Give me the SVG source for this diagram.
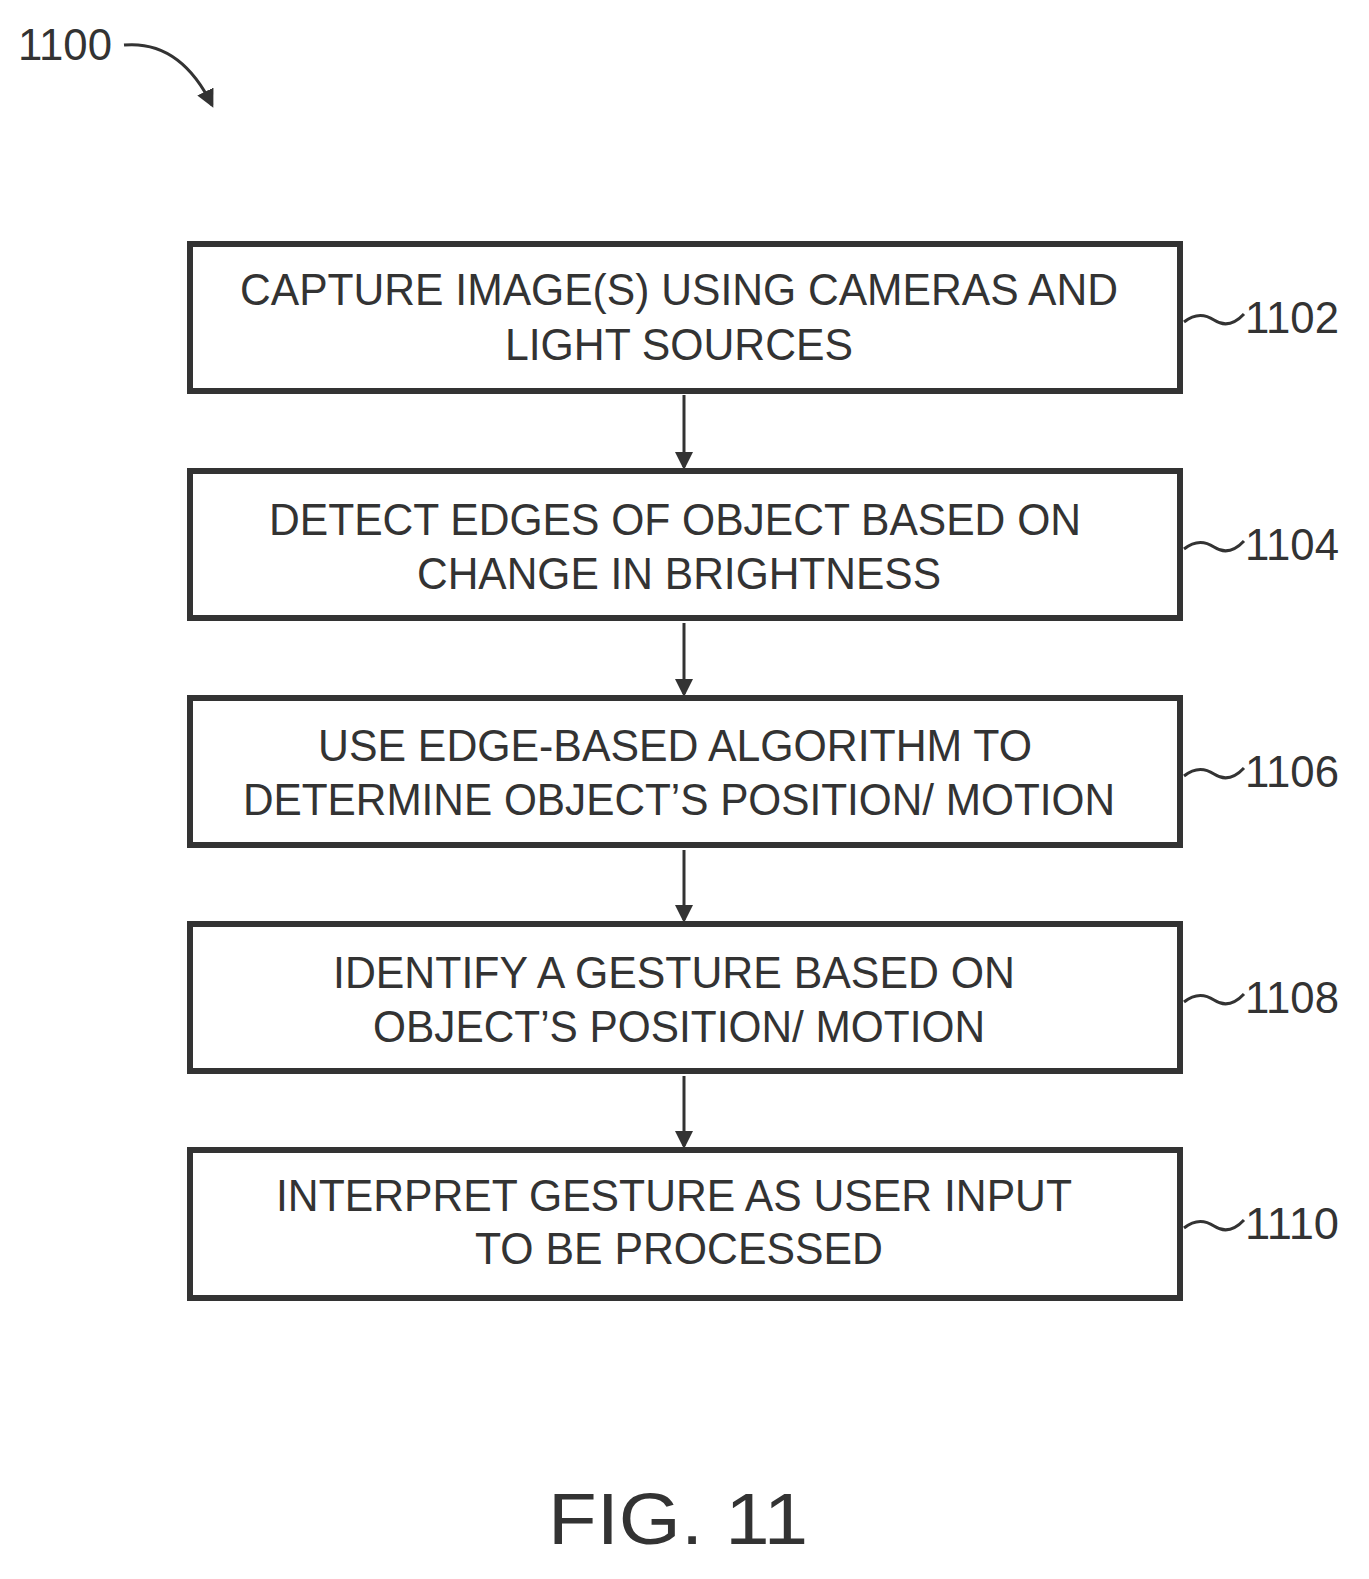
<svg xmlns="http://www.w3.org/2000/svg" width="1369" height="1579" viewBox="0 0 1369 1579">
<style>
.box{fill:#fff;stroke:#333;stroke-width:6}
.t{font-family:"Liberation Sans",Arial,sans-serif;font-size:44px;fill:#333;text-anchor:middle}
.lbl{font-family:"Liberation Sans",Arial,sans-serif;font-size:44px;fill:#333}
.c{stroke:#333;stroke-width:3;fill:none}
</style>
<defs><marker id="a" markerWidth="10" markerHeight="10" refX="9" refY="5" orient="auto" markerUnits="userSpaceOnUse" viewBox="0 0 10 10"><path d="M0,0L10,5L0,10z" fill="#333"/></marker>
<marker id="b" markerWidth="18" markerHeight="18" refX="15" refY="9" orient="auto" markerUnits="userSpaceOnUse" viewBox="0 0 18 18"><path d="M0,0L18,9L0,18z" fill="#333"/></marker></defs>
<text class="lbl" x="18" y="60" textLength="94" lengthAdjust="spacingAndGlyphs">1100</text>
<g id="connectors">
<path class="c" d="M124,45 Q180,40 212,105" marker-end="url(#b)"/>
<path class="c" d="M684,395 V467" marker-end="url(#b)"/>
<path class="c" d="M684,623 V694" marker-end="url(#b)"/>
<path class="c" d="M684,850 V920" marker-end="url(#b)"/>
<path class="c" d="M684,1076 V1146" marker-end="url(#b)"/>
<path class="c" d="M1184,322 q15,-12 30,-2 t30,-6"/>
<path class="c" d="M1184,549 q15,-12 30,-2 t30,-6"/>
<path class="c" d="M1184,776 q15,-12 30,-2 t30,-6"/>
<path class="c" d="M1184,1002 q15,-12 30,-2 t30,-6"/>
<path class="c" d="M1184,1228 q15,-12 30,-2 t30,-6"/>
</g>
<g id="n1102"><rect class="box" x="190" y="244" width="990" height="147"/>
<text class="t" x="679" y="305" textLength="878" lengthAdjust="spacingAndGlyphs">CAPTURE IMAGE(S) USING CAMERAS AND</text>
<text class="t" x="679" y="360" textLength="348" lengthAdjust="spacingAndGlyphs">LIGHT SOURCES</text>
<text class="lbl" x="1245" y="333" textLength="94" lengthAdjust="spacingAndGlyphs">1102</text></g>
<g id="n1104"><rect class="box" x="190" y="471" width="990" height="147"/>
<text class="t" x="675" y="535" textLength="812" lengthAdjust="spacingAndGlyphs">DETECT EDGES OF OBJECT BASED ON</text>
<text class="t" x="679" y="589" textLength="524" lengthAdjust="spacingAndGlyphs">CHANGE IN BRIGHTNESS</text>
<text class="lbl" x="1245" y="560" textLength="94" lengthAdjust="spacingAndGlyphs">1104</text></g>
<g id="n1106"><rect class="box" x="190" y="698" width="990" height="147"/>
<text class="t" x="675" y="761" textLength="714" lengthAdjust="spacingAndGlyphs">USE EDGE-BASED ALGORITHM TO</text>
<text class="t" x="679" y="815" textLength="872" lengthAdjust="spacingAndGlyphs">DETERMINE OBJECT’S POSITION/ MOTION</text>
<text class="lbl" x="1245" y="787" textLength="94" lengthAdjust="spacingAndGlyphs">1106</text></g>
<g id="n1108"><rect class="box" x="190" y="924" width="990" height="147"/>
<text class="t" x="674" y="988" textLength="682" lengthAdjust="spacingAndGlyphs">IDENTIFY A GESTURE BASED ON</text>
<text class="t" x="679" y="1042" textLength="612" lengthAdjust="spacingAndGlyphs">OBJECT’S POSITION/ MOTION</text>
<text class="lbl" x="1245" y="1013" textLength="94" lengthAdjust="spacingAndGlyphs">1108</text></g>
<g id="n1110"><rect class="box" x="190" y="1150" width="990" height="148"/>
<text class="t" x="674" y="1211" textLength="796" lengthAdjust="spacingAndGlyphs">INTERPRET GESTURE AS USER INPUT</text>
<text class="t" x="679" y="1264" textLength="408" lengthAdjust="spacingAndGlyphs">TO BE PROCESSED</text>
<text class="lbl" x="1245" y="1239" textLength="94" lengthAdjust="spacingAndGlyphs">1110</text></g>
<text class="lbl" x="548" y="1544" style="font-size:72px" textLength="260" lengthAdjust="spacingAndGlyphs">FIG. 11</text>
</svg>
